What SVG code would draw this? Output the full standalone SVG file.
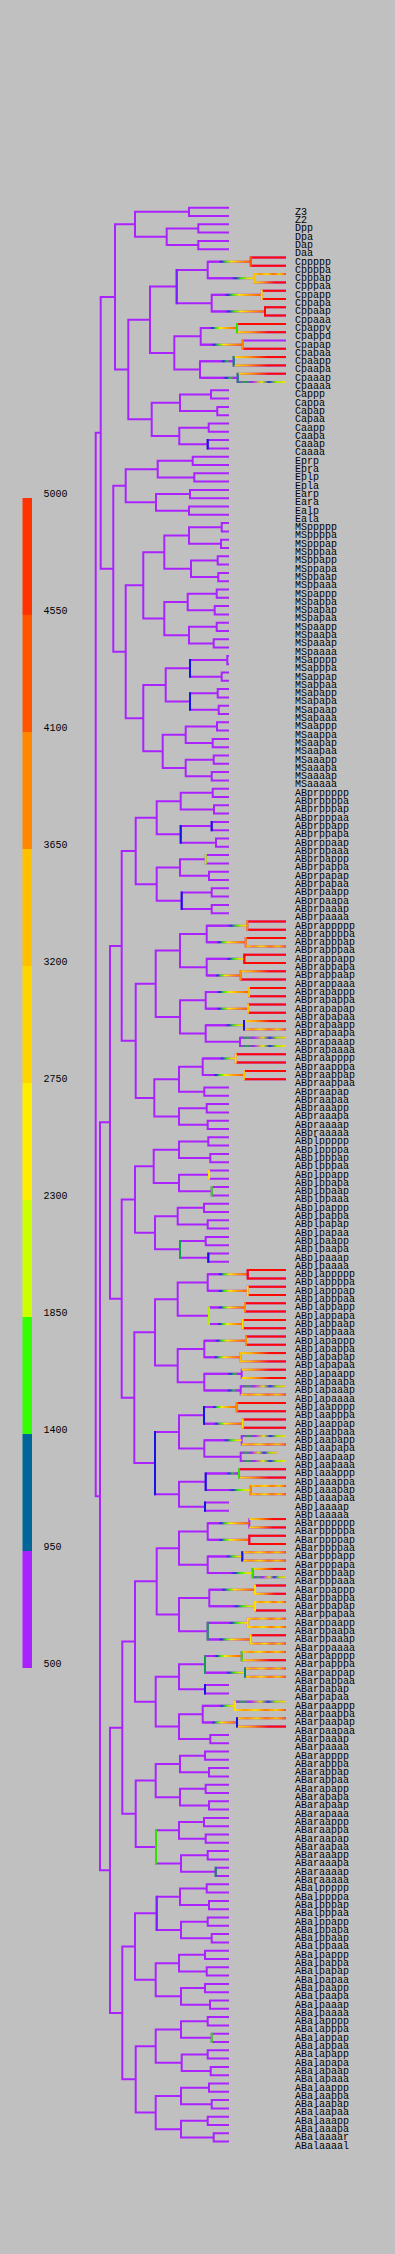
<svg xmlns="http://www.w3.org/2000/svg" width="395" height="2254" viewBox="0 0 395 2254">
<style>
.lb{font-family:"Liberation Mono","DejaVu Sans Mono",monospace;font-size:10px;fill:#000}
.t path{fill:none;stroke-width:2;vector-effect:non-scaling-stroke}
.t path.v{stroke-linecap:square}
</style>
<defs>
<linearGradient id="gA"><stop offset="0" stop-color="#AA22FF"/><stop offset=".25" stop-color="#AA22FF"/><stop offset=".32" stop-color="#2222EE"/><stop offset=".42" stop-color="#33EE00"/><stop offset=".55" stop-color="#FFEE00"/><stop offset=".75" stop-color="#FFA000"/><stop offset="1" stop-color="#FF6000"/></linearGradient>
<linearGradient id="gB"><stop offset="0" stop-color="#AA22FF"/><stop offset=".5" stop-color="#AA22FF"/><stop offset=".6" stop-color="#2233DD"/><stop offset=".72" stop-color="#33EE00"/><stop offset=".85" stop-color="#CCEE00"/><stop offset="1" stop-color="#FFE000"/></linearGradient>
<linearGradient id="gC"><stop offset="0" stop-color="#AA22FF"/><stop offset=".6" stop-color="#AA22FF"/><stop offset=".7" stop-color="#1133DD"/><stop offset=".8" stop-color="#22CC22"/><stop offset=".9" stop-color="#AA22FF"/><stop offset="1" stop-color="#AA22FF"/></linearGradient>
<linearGradient id="gY"><stop offset="0" stop-color="#FFE000"/><stop offset=".25" stop-color="#FFAA00"/><stop offset=".5" stop-color="#FF4400"/><stop offset=".65" stop-color="#FF0800"/><stop offset="1" stop-color="#FF0800"/></linearGradient>
<linearGradient id="gN"><stop offset="0" stop-color="#FFDD00"/><stop offset=".2" stop-color="#FF9900"/><stop offset=".4" stop-color="#FFE000"/><stop offset=".6" stop-color="#FF7700"/><stop offset=".8" stop-color="#FFCC00"/><stop offset="1" stop-color="#FF5500"/></linearGradient>
<linearGradient id="gP"><stop offset="0" stop-color="#AA22FF"/><stop offset=".15" stop-color="#22AA44"/><stop offset=".3" stop-color="#AA22FF"/><stop offset=".5" stop-color="#DDEE00"/><stop offset=".65" stop-color="#2233DD"/><stop offset=".8" stop-color="#99EE00"/><stop offset="1" stop-color="#FFDD00"/></linearGradient>
</defs>
<rect width="395" height="2254" fill="#C0C0C0"/>
<g id="legend">
<rect x="22.5" y="498" width="9.5" height="117" fill="#FF3300"/>
<rect x="22.5" y="615" width="9.5" height="117" fill="#FF5500"/>
<rect x="22.5" y="732" width="9.5" height="117" fill="#FF8800"/>
<rect x="22.5" y="849" width="9.5" height="117" fill="#FFC000"/>
<rect x="22.5" y="966" width="9.5" height="117" fill="#FFD500"/>
<rect x="22.5" y="1083" width="9.5" height="117" fill="#FFEE00"/>
<rect x="22.5" y="1200" width="9.5" height="117" fill="#CCFF00"/>
<rect x="22.5" y="1317" width="9.5" height="117" fill="#33FF00"/>
<rect x="22.5" y="1434" width="9.5" height="117" fill="#006699"/>
<rect x="22.5" y="1551" width="9.5" height="117" fill="#AA22FF"/>
<text class="lb" x="43.5" y="497">5000</text>
<text class="lb" x="43.5" y="614">4550</text>
<text class="lb" x="43.5" y="731">4100</text>
<text class="lb" x="43.5" y="848">3650</text>
<text class="lb" x="43.5" y="965">3200</text>
<text class="lb" x="43.5" y="1082">2750</text>
<text class="lb" x="43.5" y="1199">2300</text>
<text class="lb" x="43.5" y="1316">1850</text>
<text class="lb" x="43.5" y="1433">1400</text>
<text class="lb" x="43.5" y="1550">950</text>
<text class="lb" x="43.5" y="1667">500</text>
</g>
<g id="connectors" class="t" transform="translate(0,207.7) scale(1,8.3)">
<path stroke="#AA22FF" d="M229 0H189V1H229M229 2H198.3V3H229M229 4H198.3V5H229M198.3 2.5H166.7V4.5H198.3M189 .5H135V3.5H166.7
M286 6H250.7V7H286M286 8H254V9H286M250.7 6.5H207.7V8.5H254M286 10H261.7V11H286M286 12H265V13H286M261.7 10.5H211.7V12.5H265M207.7 7.5H176.7V11.5H211.7
M286 14H237V15H286M286 16H242.7V17H286M237 14.5H200.7V16.5H242.7M286 18H233.7V19H286M286 20H237.7V21H286M233.7 18.5H200V20.5H237.7M200.7 15.5H174.3V19.5H200M176.7 9.5H150V17.5H174.3
M229 22H211V23H229M229 24H217.3V25H229M211 22.5H180V24.5H217.3M229 26H208.7V27H229M229 28H207.7V29H229M208.7 26.5H179.3V28.5H207.7M180 23.5H151.7V27.5H179.3M150 13.5H128.3V25.5H151.7M135 2H115V19.5H128.3
M229 30H192.7V31H229M229 32H194.3V33H229M192.7 30.5H157.7V32.5H194.3M229 34H190V35H229M229 36H189V37H229M190 34.5H156V36.5H189M157.7 31.5H125.7V35.5H156
M229 38H221.7V39H229M229 40H221V41H229M221.7 38.5H189V40.5H221M229 42H217.7V43H229M229 44H218.3V45H229M217.7 42.5H191V44.5H218.3M189 39.5H164.3V43.5H191
M229 46H216.7V47H229M229 48H214.7V49H229M216.7 46.5H187.7V48.5H214.7M229 50H216.7V51H229M229 52H213.7V53H229M216.7 50.5H189V52.5H213.7M187.7 47.5H164.3V51.5H189M164.3 41.5H143.3V49.5H164.3
M229 54H227.3V55H229M229 56H221.7V57H229M227.3 54.5H190V56.5H221.7M229 58H217.7V59H229M229 60H218.7V61H229M217.7 58.5H190V60.5H218.7M190 55.5H165.7V59.5H190
M229 62H217V63H229M229 64H212.7V65H229M217 62.5H185.7V64.5H212.7M229 66H213.7V67H229M229 68H211.7V69H229M213.7 66.5H185.7V68.5H211.7M185.7 63.5H162.7V67.5H185.7M165.7 57.5H143.3V65.5H162.7M143.3 45.5H125.7V61.5H143.3M125.7 33.5H113.3V53.5H125.7M115 10.75H100.7V43.5H113.3
M229 70H212.7V71H229M229 72H214V73H229M212.7 70.5H180.7V72.5H214M229 74H211.7V75H229M229 76H216V77H229M211.7 74.5H180.7V76.5H216M180.7 71.5H156.7V75.5H180.7
M229 78H205.7V79H229M229 80H209V81H229M205.7 78.5H180V80.5H209M229 82H211.7V83H229M229 84H211.7V85H229M211.7 82.5H181.7V84.5H211.7M180 79.5H156.7V83.5H181.7M156.7 73.5H135.7V81.5H156.7
M286 86H247.3V87H286M286 88H245.7V89H286M247.3 86.5H206.7V88.5H245.7M286 90H244.3V91H286M286 92H240.7V93H286M244.3 90.5H206.7V92.5H240.7M206.7 87.5H180V91.5H206.7
M286 94H249V95H286M286 96H248V97H286M249 94.5H205.7V96.5H248M286 98H244V99H286M286 100H240V101H286M244 98.5H205.7V100.5H240M205.7 95.5H180V99.5H205.7M180 89.5H155.7V97.5H180
M286 102H235.7V103H286M286 104H244V105H286M235.7 102.5H202.7V104.5H244M229 106H204.3V107H229M202.7 103.5H179V106.5H204.3M229 108H206.7V109H229M229 110H207.7V111H229M206.7 108.5H179V110.5H207.7M179 105H154.3V109.5H179M155.7 93.5H135.7V107.25H154.3M135.7 77.5H121.7V100.375H135.7
M229 112H208.3V113H229M229 114H210.3V115H229M208.3 112.5H179V114.5H210.3M229 116H209V117H229M229 118H211.7V119H229M209 116.5H179V118.5H211.7M179 113.5H153.7V117.5H179
M229 120H204V121H229M229 122H207.7V123H229M204 120.5H177.7V122.5H207.7M229 124H205.7V125H229M229 126H208.3V127H229M205.7 124.5H180V126.5H208.3M177.7 121.5H155V125.5H180M153.7 115.5H135V123.5H155
M286 128H247.7V129H286M286 130H247.7V131H286M247.7 128.5H207.7V130.5H247.7M286 132H245V133H286M286 134H242.7V135H286M245 132.5H209V134.5H242.7M207.7 129.5H177.7V133.5H209
M286 136H246V137H286M286 138H240.7V139H286M246 136.5H204.3V138.5H240.7M286 140H241.7V141H286M286 142H240.7V143H286M241.7 140.5H204.3V142.5H240.7M204.3 137.5H177.7V141.5H204.3M177.7 131.5H155V139.5H177.7
M286 144H236.7V145H286M286 146H242.7V147H286M236.7 144.5H204V146.5H242.7M286 148H241.7V149H286M276.7 150H240.7V151H286M241.7 148.5H204.3V150.5H240.7M204 145.5H179V149.5H204.3
M286 152H239V153H286M286 154H250.7V155H286M239 152.5H205.7V154.5H250.7M229 156H205V157H229M205.7 153.5H179V156.5H205M179 147.5H155V155H179M155 135.5H134.3V151.25H155M135 119.5H121.7V143.375H134.3M121.7 88.94H110V131.44H121.7
M286 158H249.3V159H286M286 160H249.3V161H286M249.3 158.5H207.7V160.5H249.3M286 162H242.3V163H286M286 164H252.7V165H286M242.3 162.5H207.7V164.5H252.7M207.7 159.5H179V163.5H207.7
M286 166H255V167H286M286 168H255V169H286M255 166.5H209.3V168.5H255M286 170H247.7V171H286M286 172H250.7V173H286M247.7 170.5H207.7V172.5H250.7M209.3 167.5H179V171.5H207.7M179 161.5H156.7V169.5H179
M286 174H241.7V175H286M286 176H245V177H286M241.7 174.5H205V176.5H245M229 178H205V179H229M205 175.5H179V178.5H205M286 180H235V181H286M286 182H237V183H286M235 180.5H202.7V182.5H237M229 184H210.3V185H229M202.7 181.5H179V184.5H210.3M179 177H155.7V183H179M156.7 165.5H135V180H155.7
M229 186H205V187H229M229 188H209V189H229M205 186.5H180V188.5H209M229 190H205.7V191H229M229 192H209V193H229M205.7 190.5H180V192.5H209M180 187.5H155.7V191.5H180
M229 194H204V195H229M229 196H205.7V197H229M204 194.5H179V196.5H205.7M229 198H207.7V199H229M229 200H215.7V201H229M207.7 198.5H181V200.5H215.7M179 195.5H156V199.5H181M155.7 189.5H135.7V197.5H156M135 172.75H122.3V193.5H135.7
M229 202H206.7V203H229M229 204H209V205H229M206.7 202.5H180V204.5H209M229 206H207.7V207H229M229 208H211.7V209H229M207.7 206.5H181V208.5H211.7M180 203.5H156.7V207.5H181
M229 210H205V211H229M229 212H206.7V213H229M205 210.5H179V212.5H206.7M229 214H205V215H229M229 216H210V217H229M205 214.5H181V216.5H210M179 211.5H155.7V215.5H181M156.7 205.5H135V213.5H155.7
M229 218H207.7V219H229M229 220H211.7V221H229M207.7 218.5H181V220.5H211.7M229 222H207.7V223H229M229 224H210.7V225H229M207.7 222.5H181.7V224.5H210.7M181 219.5H155.7V223.5H181.7
M229 226H209V227H229M229 228H211.7V229H229M209 226.5H181V228.5H211.7M229 230H207.7V231H229M229 232H213.7V233H229M207.7 230.5H181V232.5H213.7M181 227.5H155.7V231.5H181M155.7 221.5H135.7V229.5H155.7M135 209.5H122.3V225.5H135.7
M122.3 183.125H110V217.5H122.3M110 110.19H100V200.31H110M100.7 27.125H95.7V155.25H100"/>
<g id="gradA" fill="url(#gA)">
<rect x="207.7" y="6.38" width="43" height=".24"/><rect x="211.7" y="10.38" width="50" height=".24"/><rect x="211.7" y="12.38" width="53.3" height=".24"/><rect x="200.7" y="14.38" width="36.3" height=".24"/><rect x="200.7" y="16.38" width="42" height=".24"/>
<rect x="206.7" y="88.38" width="39" height=".24"/><rect x="206.7" y="92.38" width="34" height=".24"/><rect x="205.7" y="94.38" width="43.3" height=".24"/><rect x="205.7" y="96.38" width="42.3" height=".24"/><rect x="202.7" y="104.38" width="41.3" height=".24"/>
<rect x="207.7" y="128.38" width="40" height=".24"/><rect x="207.7" y="130.38" width="40" height=".24"/><rect x="209" y="132.38" width="36" height=".24"/><rect x="209" y="134.38" width="33.7" height=".24"/><rect x="204.3" y="136.38" width="41.7" height=".24"/><rect x="204.3" y="138.38" width="36.4" height=".24"/><rect x="204" y="144.38" width="32.7" height=".24"/><rect x="204" y="146.38" width="38.7" height=".24"/>
<rect x="207.7" y="158.38" width="41.6" height=".24"/><rect x="207.7" y="160.38" width="41.6" height=".24"/><rect x="209.3" y="166.38" width="45.7" height=".24"/><rect x="207.7" y="172.38" width="43" height=".24"/><rect x="205" y="174.38" width="36.7" height=".24"/><rect x="202.7" y="182.38" width="34.3" height=".24"/>
</g>
<g id="gradB" fill="url(#gB)">
<rect x="207.7" y="8.38" width="46.3" height=".24"/><rect x="206.7" y="86.38" width="40.6" height=".24"/><rect x="206.7" y="90.38" width="37.6" height=".24"/><rect x="205.7" y="98.38" width="38.3" height=".24"/><rect x="202.7" y="102.38" width="33" height=".24"/><rect x="204.3" y="148.38" width="37.4" height=".24"/><rect x="205.7" y="154.38" width="45" height=".24"/><rect x="207.7" y="162.38" width="34.6" height=".24"/><rect x="207.7" y="164.38" width="45" height=".24"/><rect x="209.3" y="168.38" width="45.7" height=".24"/><rect x="207.7" y="170.38" width="40" height=".24"/><rect x="205" y="176.38" width="40" height=".24"/><rect x="202.7" y="180.38" width="32.3" height=".24"/>
</g>
<g id="gradC" fill="url(#gC)">
<rect x="200" y="18.38" width="33.7" height=".24"/><rect x="200" y="20.38" width="37.7" height=".24"/><rect x="204.3" y="140.38" width="37.4" height=".24"/><rect x="204.3" y="142.38" width="36.4" height=".24"/><rect x="205.7" y="152.38" width="33.3" height=".24"/>
</g>
<path stroke="#FF0800" d="M250.7 6H286M250.7 7H286M261.7 10H286M261.7 11H286M265 12H286M265 13H286M237 14H286M242.7 17H286M247.3 86H286M247.3 87H286M245.7 88H286M244.3 90H286M244.3 91H286M240.7 93H286M249 94H286M249 95H286M248 96H286M248 97H286M235.7 102H286M235.7 103H286M244 104H286M244 105H286M247.7 128H286M247.7 129H286M247.7 130H286M247.7 131H286M245 132H286M245 133H286M242.7 134H286M242.7 135H286M246 136H286M246 137H286M236.7 144H286M236.7 145H286M242.7 146H286M242.7 147H286M239 152H286M249.3 160H286M249.3 161H286M255 166H286M255 169H286M250.7 172H286"/>
<g id="leafY" fill="url(#gY)">
<rect x="237" y="14.88" width="49" height=".24"/><rect x="254" y="8.88" width="32" height=".24"/><rect x="233.7" y="17.88" width="52.3" height=".24"/><rect x="233.7" y="18.88" width="52.3" height=".24"/><rect x="237.7" y="19.88" width="48.3" height=".24"/><rect x="240.7" y="91.88" width="45.3" height=".24"/><rect x="244" y="97.88" width="42" height=".24"/><rect x="240.7" y="137.88" width="45.3" height=".24"/><rect x="240.7" y="138.88" width="45.3" height=".24"/><rect x="241.7" y="139.88" width="44.3" height=".24"/><rect x="241.7" y="140.88" width="44.3" height=".24"/><rect x="239" y="152.88" width="47" height=".24"/><rect x="249.3" y="157.88" width="36.7" height=".24"/><rect x="249.3" y="158.88" width="36.7" height=".24"/><rect x="252.7" y="163.88" width="33.3" height=".24"/><rect x="255" y="166.88" width="31" height=".24"/><rect x="241.7" y="174.88" width="44.3" height=".24"/><rect x="237" y="182.88" width="49" height=".24"/>
</g>
<g id="leafN" fill="url(#gN)">
<rect x="254" y="7.88" width="32" height=".24"/><rect x="245.7" y="88.88" width="40.3" height=".24"/><rect x="244" y="98.88" width="42" height=".24"/><rect x="240.7" y="142.88" width="45.3" height=".24"/><rect x="241.7" y="148.88" width="44.3" height=".24"/><rect x="250.7" y="153.88" width="35.3" height=".24"/><rect x="250.7" y="154.88" width="35.3" height=".24"/><rect x="242.3" y="161.88" width="43.7" height=".24"/><rect x="242.3" y="162.88" width="43.7" height=".24"/><rect x="255" y="167.88" width="31" height=".24"/><rect x="247.7" y="169.88" width="38.3" height=".24"/><rect x="247.7" y="170.88" width="38.3" height=".24"/><rect x="250.7" y="172.88" width="35.3" height=".24"/><rect x="241.7" y="173.88" width="44.3" height=".24"/><rect x="245" y="175.88" width="41" height=".24"/><rect x="245" y="176.88" width="41" height=".24"/><rect x="235" y="180.88" width="51" height=".24"/><rect x="237" y="181.88" width="49" height=".24"/>
</g>
<g id="leafP" fill="url(#gP)">
<rect x="237.7" y="20.88" width="48.3" height=".24"/><rect x="240" y="99.88" width="46" height=".24"/><rect x="240" y="100.88" width="46" height=".24"/><rect x="240.7" y="141.88" width="45.3" height=".24"/><rect x="241.7" y="147.88" width="44.3" height=".24"/><rect x="240.7" y="149.88" width="36" height=".24"/><rect x="240.7" y="150.88" width="45.3" height=".24"/><rect x="252.7" y="164.88" width="33.3" height=".24"/><rect x="235" y="179.88" width="51" height=".24"/>
</g>
<path class="v" stroke="#1414E6" d="M207.7 28V29M190 54.5V56.5M190 58.5V60.5M180.7 74.5V76.5M211.7 74V75M181.7 82.5V84.5M244 98V99M208.3 126V127M204 144.5V146.5M205.7 152.5V154.5M205 156V157M155 147.5V155M242.3 162V163M205 178V179M237 182V183"/>
<path class="v" stroke="#0A8A6A" d="M233.7 18V19M237.7 20V21M245 176V177M215.7 200V201"/>
<path class="v" stroke="#12A050" d="M180 124.5V126.5M207.7 170.5V172.5M205 174.5V176.5"/>
<path class="v" stroke="#33E000" d="M237 14V15M211.7 118V119M252.7 164V165M241.7 174V175M156 195.5V199.5M211.7 220V221M239 152V153"/>
<path class="v" stroke="#B0F000" d="M205.7 78V79M209 132.5V134.5"/>
<path class="v" stroke="#FFE000" d="M261.7 10V11M209 116V117M247.7 130V131M242.7 134V135M242.7 146V147M255 166V167M255 168V169M247.7 170V171M250.7 172V173M235 180V181M235.7 102V103"/>
<path class="v" stroke="#FFC000" d="M254 8V9M249 94V95M248 96V97M244 104V105M240.7 138V139"/>
<path class="v" stroke="#FF8C00" d="M242.7 16V17M247.3 86V87M245.7 88V89M240.7 92V93M245 132V133M246 136V137M236.7 144V145M250.7 154V155"/>
<path class="v" stroke="#FF5A00" d="M250.7 6V7"/>
<path class="v" stroke="#FF0800" d="M265 12V13M244.3 90V91M247.7 128V129M249.3 160V161"/>
<path class="v" stroke="#7A1EFF" d="M176.7 7.5V11.5M156.7 203.5V207.5"/>
</g>
<g id="labels">
<text class="lb" id="Z3" x="295" y="214.7">Z3</text>
<text class="lb" id="Z2" x="295" y="223">Z2</text>
<text class="lb" id="Dpp" x="295" y="231.3">Dpp</text>
<text class="lb" id="Dpa" x="295" y="239.6">Dpa</text>
<text class="lb" id="Dap" x="295" y="247.9">Dap</text>
<text class="lb" id="Daa" x="295" y="256.2">Daa</text>
<text class="lb" id="Cppppp" x="295" y="264.5">Cppppp</text>
<text class="lb" id="Cppppa" x="295" y="272.8">Cppppa</text>
<text class="lb" id="Cpppap" x="295" y="281.1">Cpppap</text>
<text class="lb" id="Cpppaa" x="295" y="289.4">Cpppaa</text>
<text class="lb" id="Cppapp" x="295" y="297.7">Cppapp</text>
<text class="lb" id="Cppapa" x="295" y="306">Cppapa</text>
<text class="lb" id="Cppaap" x="295" y="314.3">Cppaap</text>
<text class="lb" id="Cppaaa" x="295" y="322.6">Cppaaa</text>
<text class="lb" id="Cpappv" x="295" y="330.9">Cpappv</text>
<text class="lb" id="Cpappd" x="295" y="339.2">Cpappd</text>
<text class="lb" id="Cpapap" x="295" y="347.5">Cpapap</text>
<text class="lb" id="Cpapaa" x="295" y="355.8">Cpapaa</text>
<text class="lb" id="Cpaapp" x="295" y="364.1">Cpaapp</text>
<text class="lb" id="Cpaapa" x="295" y="372.4">Cpaapa</text>
<text class="lb" id="Cpaaap" x="295" y="380.7">Cpaaap</text>
<text class="lb" id="Cpaaaa" x="295" y="389">Cpaaaa</text>
<text class="lb" id="Cappp" x="295" y="397.3">Cappp</text>
<text class="lb" id="Cappa" x="295" y="405.6">Cappa</text>
<text class="lb" id="Capap" x="295" y="413.9">Capap</text>
<text class="lb" id="Capaa" x="295" y="422.2">Capaa</text>
<text class="lb" id="Caapp" x="295" y="430.5">Caapp</text>
<text class="lb" id="Caapa" x="295" y="438.8">Caapa</text>
<text class="lb" id="Caaap" x="295" y="447.1">Caaap</text>
<text class="lb" id="Caaaa" x="295" y="455.4">Caaaa</text>
<text class="lb" id="Eprp" x="295" y="463.7">Eprp</text>
<text class="lb" id="Epra" x="295" y="472">Epra</text>
<text class="lb" id="Eplp" x="295" y="480.3">Eplp</text>
<text class="lb" id="Epla" x="295" y="488.6">Epla</text>
<text class="lb" id="Earp" x="295" y="496.9">Earp</text>
<text class="lb" id="Eara" x="295" y="505.2">Eara</text>
<text class="lb" id="Ealp" x="295" y="513.5">Ealp</text>
<text class="lb" id="Eala" x="295" y="521.8">Eala</text>
<text class="lb" id="MSppppp" x="295" y="530.1">MSppppp</text>
<text class="lb" id="MSppppa" x="295" y="538.4">MSppppa</text>
<text class="lb" id="MSpppap" x="295" y="546.7">MSpppap</text>
<text class="lb" id="MSpppaa" x="295" y="555">MSpppaa</text>
<text class="lb" id="MSppapp" x="295" y="563.3">MSppapp</text>
<text class="lb" id="MSppapa" x="295" y="571.6">MSppapa</text>
<text class="lb" id="MSppaap" x="295" y="579.9">MSppaap</text>
<text class="lb" id="MSppaaa" x="295" y="588.2">MSppaaa</text>
<text class="lb" id="MSpappp" x="295" y="596.5">MSpappp</text>
<text class="lb" id="MSpappa" x="295" y="604.8">MSpappa</text>
<text class="lb" id="MSpapap" x="295" y="613.1">MSpapap</text>
<text class="lb" id="MSpapaa" x="295" y="621.4">MSpapaa</text>
<text class="lb" id="MSpaapp" x="295" y="629.7">MSpaapp</text>
<text class="lb" id="MSpaapa" x="295" y="638">MSpaapa</text>
<text class="lb" id="MSpaaap" x="295" y="646.3">MSpaaap</text>
<text class="lb" id="MSpaaaa" x="295" y="654.6">MSpaaaa</text>
<text class="lb" id="MSapppp" x="295" y="662.9">MSapppp</text>
<text class="lb" id="MSapppa" x="295" y="671.2">MSapppa</text>
<text class="lb" id="MSappap" x="295" y="679.5">MSappap</text>
<text class="lb" id="MSappaa" x="295" y="687.8">MSappaa</text>
<text class="lb" id="MSapapp" x="295" y="696.1">MSapapp</text>
<text class="lb" id="MSapapa" x="295" y="704.4">MSapapa</text>
<text class="lb" id="MSapaap" x="295" y="712.7">MSapaap</text>
<text class="lb" id="MSapaaa" x="295" y="721">MSapaaa</text>
<text class="lb" id="MSaappp" x="295" y="729.3">MSaappp</text>
<text class="lb" id="MSaappa" x="295" y="737.6">MSaappa</text>
<text class="lb" id="MSaapap" x="295" y="745.9">MSaapap</text>
<text class="lb" id="MSaapaa" x="295" y="754.2">MSaapaa</text>
<text class="lb" id="MSaaapp" x="295" y="762.5">MSaaapp</text>
<text class="lb" id="MSaaapa" x="295" y="770.8">MSaaapa</text>
<text class="lb" id="MSaaaap" x="295" y="779.1">MSaaaap</text>
<text class="lb" id="MSaaaaa" x="295" y="787.4">MSaaaaa</text>
<text class="lb" id="ABprppppp" x="295" y="795.7">ABprppppp</text>
<text class="lb" id="ABprppppa" x="295" y="804">ABprppppa</text>
<text class="lb" id="ABprpppap" x="295" y="812.3">ABprpppap</text>
<text class="lb" id="ABprpppaa" x="295" y="820.6">ABprpppaa</text>
<text class="lb" id="ABprppapp" x="295" y="828.9">ABprppapp</text>
<text class="lb" id="ABprppapa" x="295" y="837.2">ABprppapa</text>
<text class="lb" id="ABprppaap" x="295" y="845.5">ABprppaap</text>
<text class="lb" id="ABprppaaa" x="295" y="853.8">ABprppaaa</text>
<text class="lb" id="ABprpappp" x="295" y="862.1">ABprpappp</text>
<text class="lb" id="ABprpappa" x="295" y="870.4">ABprpappa</text>
<text class="lb" id="ABprpapap" x="295" y="878.7">ABprpapap</text>
<text class="lb" id="ABprpapaa" x="295" y="887">ABprpapaa</text>
<text class="lb" id="ABprpaapp" x="295" y="895.3">ABprpaapp</text>
<text class="lb" id="ABprpaapa" x="295" y="903.6">ABprpaapa</text>
<text class="lb" id="ABprpaaap" x="295" y="911.9">ABprpaaap</text>
<text class="lb" id="ABprpaaaa" x="295" y="920.2">ABprpaaaa</text>
<text class="lb" id="ABprappppp" x="295" y="928.5">ABprappppp</text>
<text class="lb" id="ABprappppa" x="295" y="936.8">ABprappppa</text>
<text class="lb" id="ABprapppap" x="295" y="945.1">ABprapppap</text>
<text class="lb" id="ABprapppaa" x="295" y="953.4">ABprapppaa</text>
<text class="lb" id="ABprappapp" x="295" y="961.7">ABprappapp</text>
<text class="lb" id="ABprappapa" x="295" y="970">ABprappapa</text>
<text class="lb" id="ABprappaap" x="295" y="978.3">ABprappaap</text>
<text class="lb" id="ABprappaaa" x="295" y="986.6">ABprappaaa</text>
<text class="lb" id="ABprapappp" x="295" y="994.9">ABprapappp</text>
<text class="lb" id="ABprapappa" x="295" y="1003.2">ABprapappa</text>
<text class="lb" id="ABprapapap" x="295" y="1011.5">ABprapapap</text>
<text class="lb" id="ABprapapaa" x="295" y="1019.8">ABprapapaa</text>
<text class="lb" id="ABprapaapp" x="295" y="1028.1">ABprapaapp</text>
<text class="lb" id="ABprapaapa" x="295" y="1036.4">ABprapaapa</text>
<text class="lb" id="ABprapaaap" x="295" y="1044.7">ABprapaaap</text>
<text class="lb" id="ABprapaaaa" x="295" y="1053">ABprapaaaa</text>
<text class="lb" id="ABpraapppp" x="295" y="1061.3">ABpraapppp</text>
<text class="lb" id="ABpraapppa" x="295" y="1069.6">ABpraapppa</text>
<text class="lb" id="ABpraappap" x="295" y="1077.9">ABpraappap</text>
<text class="lb" id="ABpraappaa" x="295" y="1086.2">ABpraappaa</text>
<text class="lb" id="ABpraapap" x="295" y="1094.5">ABpraapap</text>
<text class="lb" id="ABpraapaa" x="295" y="1102.8">ABpraapaa</text>
<text class="lb" id="ABpraaapp" x="295" y="1111.1">ABpraaapp</text>
<text class="lb" id="ABpraaapa" x="295" y="1119.4">ABpraaapa</text>
<text class="lb" id="ABpraaaap" x="295" y="1127.7">ABpraaaap</text>
<text class="lb" id="ABpraaaaa" x="295" y="1136">ABpraaaaa</text>
<text class="lb" id="ABplppppp" x="295" y="1144.3">ABplppppp</text>
<text class="lb" id="ABplppppa" x="295" y="1152.6">ABplppppa</text>
<text class="lb" id="ABplpppap" x="295" y="1160.9">ABplpppap</text>
<text class="lb" id="ABplpppaa" x="295" y="1169.2">ABplpppaa</text>
<text class="lb" id="ABplppapp" x="295" y="1177.5">ABplppapp</text>
<text class="lb" id="ABplppapa" x="295" y="1185.8">ABplppapa</text>
<text class="lb" id="ABplppaap" x="295" y="1194.1">ABplppaap</text>
<text class="lb" id="ABplppaaa" x="295" y="1202.4">ABplppaaa</text>
<text class="lb" id="ABplpappp" x="295" y="1210.7">ABplpappp</text>
<text class="lb" id="ABplpappa" x="295" y="1219">ABplpappa</text>
<text class="lb" id="ABplpapap" x="295" y="1227.3">ABplpapap</text>
<text class="lb" id="ABplpapaa" x="295" y="1235.6">ABplpapaa</text>
<text class="lb" id="ABplpaapp" x="295" y="1243.9">ABplpaapp</text>
<text class="lb" id="ABplpaapa" x="295" y="1252.2">ABplpaapa</text>
<text class="lb" id="ABplpaaap" x="295" y="1260.5">ABplpaaap</text>
<text class="lb" id="ABplpaaaa" x="295" y="1268.8">ABplpaaaa</text>
<text class="lb" id="ABplappppp" x="295" y="1277.1">ABplappppp</text>
<text class="lb" id="ABplappppa" x="295" y="1285.4">ABplappppa</text>
<text class="lb" id="ABplapppap" x="295" y="1293.7">ABplapppap</text>
<text class="lb" id="ABplapppaa" x="295" y="1302">ABplapppaa</text>
<text class="lb" id="ABplappapp" x="295" y="1310.3">ABplappapp</text>
<text class="lb" id="ABplappapa" x="295" y="1318.6">ABplappapa</text>
<text class="lb" id="ABplappaap" x="295" y="1326.9">ABplappaap</text>
<text class="lb" id="ABplappaaa" x="295" y="1335.2">ABplappaaa</text>
<text class="lb" id="ABplapappp" x="295" y="1343.5">ABplapappp</text>
<text class="lb" id="ABplapappa" x="295" y="1351.8">ABplapappa</text>
<text class="lb" id="ABplapapap" x="295" y="1360.1">ABplapapap</text>
<text class="lb" id="ABplapapaa" x="295" y="1368.4">ABplapapaa</text>
<text class="lb" id="ABplapaapp" x="295" y="1376.7">ABplapaapp</text>
<text class="lb" id="ABplapaapa" x="295" y="1385">ABplapaapa</text>
<text class="lb" id="ABplapaaap" x="295" y="1393.3">ABplapaaap</text>
<text class="lb" id="ABplapaaaa" x="295" y="1401.6">ABplapaaaa</text>
<text class="lb" id="ABplaapppp" x="295" y="1409.9">ABplaapppp</text>
<text class="lb" id="ABplaapppa" x="295" y="1418.2">ABplaapppa</text>
<text class="lb" id="ABplaappap" x="295" y="1426.5">ABplaappap</text>
<text class="lb" id="ABplaappaa" x="295" y="1434.8">ABplaappaa</text>
<text class="lb" id="ABplaapapp" x="295" y="1443.1">ABplaapapp</text>
<text class="lb" id="ABplaapapa" x="295" y="1451.4">ABplaapapa</text>
<text class="lb" id="ABplaapaap" x="295" y="1459.7">ABplaapaap</text>
<text class="lb" id="ABplaapaaa" x="295" y="1468">ABplaapaaa</text>
<text class="lb" id="ABplaaappp" x="295" y="1476.3">ABplaaappp</text>
<text class="lb" id="ABplaaappa" x="295" y="1484.6">ABplaaappa</text>
<text class="lb" id="ABplaaapap" x="295" y="1492.9">ABplaaapap</text>
<text class="lb" id="ABplaaapaa" x="295" y="1501.2">ABplaaapaa</text>
<text class="lb" id="ABplaaaap" x="295" y="1509.5">ABplaaaap</text>
<text class="lb" id="ABplaaaaa" x="295" y="1517.8">ABplaaaaa</text>
<text class="lb" id="ABarpppppp" x="295" y="1526.1">ABarpppppp</text>
<text class="lb" id="ABarpppppa" x="295" y="1534.4">ABarpppppa</text>
<text class="lb" id="ABarppppap" x="295" y="1542.7">ABarppppap</text>
<text class="lb" id="ABarppppaa" x="295" y="1551">ABarppppaa</text>
<text class="lb" id="ABarpppapp" x="295" y="1559.3">ABarpppapp</text>
<text class="lb" id="ABarpppapa" x="295" y="1567.6">ABarpppapa</text>
<text class="lb" id="ABarpppaap" x="295" y="1575.9">ABarpppaap</text>
<text class="lb" id="ABarpppaaa" x="295" y="1584.2">ABarpppaaa</text>
<text class="lb" id="ABarppappp" x="295" y="1592.5">ABarppappp</text>
<text class="lb" id="ABarppappa" x="295" y="1600.8">ABarppappa</text>
<text class="lb" id="ABarppapap" x="295" y="1609.1">ABarppapap</text>
<text class="lb" id="ABarppapaa" x="295" y="1617.4">ABarppapaa</text>
<text class="lb" id="ABarppaapp" x="295" y="1625.7">ABarppaapp</text>
<text class="lb" id="ABarppaapa" x="295" y="1634">ABarppaapa</text>
<text class="lb" id="ABarppaaap" x="295" y="1642.3">ABarppaaap</text>
<text class="lb" id="ABarppaaaa" x="295" y="1650.6">ABarppaaaa</text>
<text class="lb" id="ABarpapppp" x="295" y="1658.9">ABarpapppp</text>
<text class="lb" id="ABarpapppa" x="295" y="1667.2">ABarpapppa</text>
<text class="lb" id="ABarpappap" x="295" y="1675.5">ABarpappap</text>
<text class="lb" id="ABarpappaa" x="295" y="1683.8">ABarpappaa</text>
<text class="lb" id="ABarpapap" x="295" y="1692.1">ABarpapap</text>
<text class="lb" id="ABarpapaa" x="295" y="1700.4">ABarpapaa</text>
<text class="lb" id="ABarpaappp" x="295" y="1708.7">ABarpaappp</text>
<text class="lb" id="ABarpaappa" x="295" y="1717">ABarpaappa</text>
<text class="lb" id="ABarpaapap" x="295" y="1725.3">ABarpaapap</text>
<text class="lb" id="ABarpaapaa" x="295" y="1733.6">ABarpaapaa</text>
<text class="lb" id="ABarpaaap" x="295" y="1741.9">ABarpaaap</text>
<text class="lb" id="ABarpaaaa" x="295" y="1750.2">ABarpaaaa</text>
<text class="lb" id="ABarapppp" x="295" y="1758.5">ABarapppp</text>
<text class="lb" id="ABarapppa" x="295" y="1766.8">ABarapppa</text>
<text class="lb" id="ABarappap" x="295" y="1775.1">ABarappap</text>
<text class="lb" id="ABarappaa" x="295" y="1783.4">ABarappaa</text>
<text class="lb" id="ABarapapp" x="295" y="1791.7">ABarapapp</text>
<text class="lb" id="ABarapapa" x="295" y="1800">ABarapapa</text>
<text class="lb" id="ABarapaap" x="295" y="1808.3">ABarapaap</text>
<text class="lb" id="ABarapaaa" x="295" y="1816.6">ABarapaaa</text>
<text class="lb" id="ABaraappp" x="295" y="1824.9">ABaraappp</text>
<text class="lb" id="ABaraappa" x="295" y="1833.2">ABaraappa</text>
<text class="lb" id="ABaraapap" x="295" y="1841.5">ABaraapap</text>
<text class="lb" id="ABaraapaa" x="295" y="1849.8">ABaraapaa</text>
<text class="lb" id="ABaraaapp" x="295" y="1858.1">ABaraaapp</text>
<text class="lb" id="ABaraaapa" x="295" y="1866.4">ABaraaapa</text>
<text class="lb" id="ABaraaaap" x="295" y="1874.7">ABaraaaap</text>
<text class="lb" id="ABaraaaaa" x="295" y="1883">ABaraaaaa</text>
<text class="lb" id="ABalppppp" x="295" y="1891.3">ABalppppp</text>
<text class="lb" id="ABalppppa" x="295" y="1899.6">ABalppppa</text>
<text class="lb" id="ABalpppap" x="295" y="1907.9">ABalpppap</text>
<text class="lb" id="ABalpppaa" x="295" y="1916.2">ABalpppaa</text>
<text class="lb" id="ABalppapp" x="295" y="1924.5">ABalppapp</text>
<text class="lb" id="ABalppapa" x="295" y="1932.8">ABalppapa</text>
<text class="lb" id="ABalppaap" x="295" y="1941.1">ABalppaap</text>
<text class="lb" id="ABalppaaa" x="295" y="1949.4">ABalppaaa</text>
<text class="lb" id="ABalpappp" x="295" y="1957.7">ABalpappp</text>
<text class="lb" id="ABalpappa" x="295" y="1966">ABalpappa</text>
<text class="lb" id="ABalpapap" x="295" y="1974.3">ABalpapap</text>
<text class="lb" id="ABalpapaa" x="295" y="1982.6">ABalpapaa</text>
<text class="lb" id="ABalpaapp" x="295" y="1990.9">ABalpaapp</text>
<text class="lb" id="ABalpaapa" x="295" y="1999.2">ABalpaapa</text>
<text class="lb" id="ABalpaaap" x="295" y="2007.5">ABalpaaap</text>
<text class="lb" id="ABalpaaaa" x="295" y="2015.8">ABalpaaaa</text>
<text class="lb" id="ABalapppp" x="295" y="2024.1">ABalapppp</text>
<text class="lb" id="ABalapppa" x="295" y="2032.4">ABalapppa</text>
<text class="lb" id="ABalappap" x="295" y="2040.7">ABalappap</text>
<text class="lb" id="ABalappaa" x="295" y="2049">ABalappaa</text>
<text class="lb" id="ABalapapp" x="295" y="2057.3">ABalapapp</text>
<text class="lb" id="ABalapapa" x="295" y="2065.6">ABalapapa</text>
<text class="lb" id="ABalapaap" x="295" y="2073.9">ABalapaap</text>
<text class="lb" id="ABalapaaa" x="295" y="2082.2">ABalapaaa</text>
<text class="lb" id="ABalaappp" x="295" y="2090.5">ABalaappp</text>
<text class="lb" id="ABalaappa" x="295" y="2098.8">ABalaappa</text>
<text class="lb" id="ABalaapap" x="295" y="2107.1">ABalaapap</text>
<text class="lb" id="ABalaapaa" x="295" y="2115.4">ABalaapaa</text>
<text class="lb" id="ABalaaapp" x="295" y="2123.7">ABalaaapp</text>
<text class="lb" id="ABalaaapa" x="295" y="2132">ABalaaapa</text>
<text class="lb" id="ABalaaaar" x="295" y="2140.3">ABalaaaar</text>
<text class="lb" id="ABalaaaal" x="295" y="2148.6">ABalaaaal</text>
</g>
</svg>
